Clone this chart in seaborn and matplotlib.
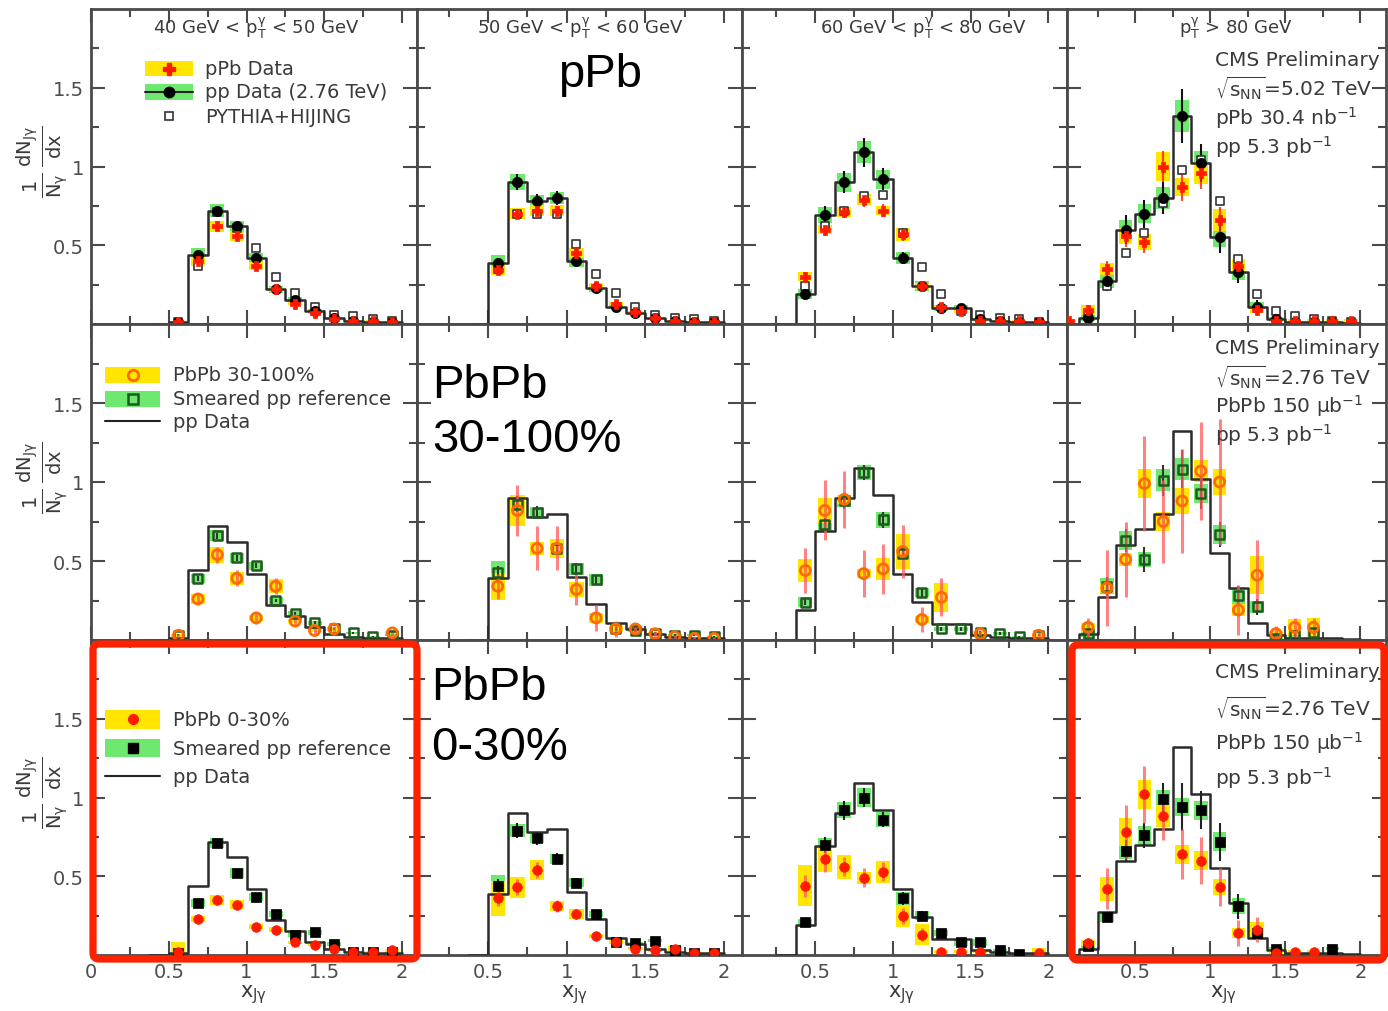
import numpy as np
import pandas as pd
import matplotlib
matplotlib.use("Agg")
import matplotlib.pyplot as plt
import seaborn as sns
from matplotlib.patches import Rectangle, FancyBboxPatch
from matplotlib.ticker import FixedLocator

nan = np.nan

# ---------------------------------------------------------------------------
# x_Jgamma bin centres (bin width 0.125) for each photon pT interval
# ---------------------------------------------------------------------------
BIN_WIDTH = 0.125
X_40_50 = [0.5625, 0.6875, 0.8125, 0.9375, 1.0625, 1.1875, 1.3125, 1.4375, 1.5625, 1.6875, 1.8125, 1.9375]
X_50_60 = [0.5625, 0.6875, 0.8125, 0.9375, 1.0625, 1.1875, 1.3125, 1.4375, 1.5625, 1.6875, 1.8125, 1.9375]
X_60_80 = [0.4375, 0.5625, 0.6875, 0.8125, 0.9375, 1.0625, 1.1875, 1.3125, 1.4375, 1.5625, 1.6875, 1.8125, 1.9375]
X_80 = [0.0625, 0.1875, 0.3125, 0.4375, 0.5625, 0.6875, 0.8125, 0.9375, 1.0625, 1.1875, 1.3125, 1.4375,
        1.5625, 1.6875, 1.8125, 1.9375]

PT_TITLES = [r"40 GeV < $p_{T}^{\gamma}$ < 50 GeV", r"50 GeV < $p_{T}^{\gamma}$ < 60 GeV",
             r"60 GeV < $p_{T}^{\gamma}$ < 80 GeV", r"$p_{T}^{\gamma}$ > 80 GeV"]

# ---------------- 40 < pT < 50 GeV ----------------
PP_40_50 = [0.01, 0.44, 0.72, 0.62, 0.42, 0.22, 0.155, 0.085, 0.035, 0.02, 0.015, 0.01]
PP_40_50_STAT = [0.005, 0.02, 0.025, 0.02, 0.02, 0.015, 0.012, 0.01, 0.006, 0.005, 0.004, 0.003]
PP_40_50_SYS = [0.01, 0.04, 0.04, 0.035, 0.03, 0.02, 0.015, 0.012, 0.008, 0.006, 0.005, 0.004]
PPB_40_50 = [0.01, 0.40, 0.62, 0.56, 0.37, 0.22, 0.13, 0.07, 0.03, 0.02, 0.02, 0.015]
PPB_40_50_STAT = [0.005, 0.015, 0.02, 0.02, 0.015, 0.01, 0.01, 0.008, 0.005, 0.004, 0.004, 0.003]
PPB_40_50_SYS = [0.01, 0.03, 0.035, 0.03, 0.025, 0.015, 0.01, 0.008, 0.006, 0.005, 0.005, 0.004]
PYHJ_40_50 = [0.01, 0.37, 0.71, 0.61, 0.48, 0.30, 0.20, 0.11, 0.06, 0.05, 0.03, 0.02]
PER_40_50 = [0.03, 0.26, 0.54, 0.39, 0.14, 0.34, 0.12, 0.06, 0.07, nan, nan, 0.045]
PER_40_50_STAT = [0.01, 0.04, 0.05, 0.05, 0.04, 0.05, 0.03, 0.02, 0.02, nan, nan, 0.02]
PER_40_50_SYS = [0.01, 0.03, 0.05, 0.04, 0.02, 0.045, 0.015, 0.01, 0.01, nan, nan, 0.01]
SMP_40_50 = [0.03, 0.39, 0.66, 0.52, 0.47, 0.25, 0.17, 0.11, 0.07, 0.045, 0.02, 0.03]
SMP_40_50_STAT = [0.005, 0.015, 0.02, 0.02, 0.015, 0.012, 0.01, 0.008, 0.006, 0.005, 0.004, 0.004]
SMP_40_50_SYS = [0.01, 0.03, 0.035, 0.03, 0.025, 0.02, 0.015, 0.012, 0.01, 0.008, 0.006, 0.006]
CEN_40_50 = [0.02, 0.23, 0.35, 0.32, 0.18, 0.16, 0.08, 0.065, 0.04, 0.02, 0.02, 0.03]
CEN_40_50_STAT = [0.005, 0.015, 0.02, 0.02, 0.015, 0.012, 0.01, 0.008, 0.006, 0.005, 0.005, 0.005]
CEN_40_50_SYS = [0.06, 0.02, 0.03, 0.03, 0.015, 0.015, 0.01, 0.008, 0.006, 0.005, 0.005, 0.01]
SMC_40_50 = [0.01, 0.33, 0.71, 0.52, 0.37, 0.26, 0.13, 0.145, 0.07, 0.02, 0.02, 0.02]
SMC_40_50_STAT = [0.005, 0.015, 0.02, 0.02, 0.015, 0.012, 0.01, 0.01, 0.006, 0.004, 0.004, 0.004]
SMC_40_50_SYS = [0.01, 0.025, 0.03, 0.03, 0.025, 0.02, 0.015, 0.015, 0.01, 0.006, 0.006, 0.006]

# ---------------- 50 < pT < 60 GeV ----------------
PP_50_60 = [0.39, 0.90, 0.78, 0.80, 0.40, 0.23, 0.11, 0.07, 0.035, 0.02, 0.015, 0.01]
PP_50_60_STAT = [0.03, 0.05, 0.045, 0.045, 0.03, 0.02, 0.015, 0.012, 0.008, 0.006, 0.005, 0.004]
PP_50_60_SYS = [0.05, 0.05, 0.04, 0.04, 0.035, 0.025, 0.015, 0.01, 0.008, 0.006, 0.005, 0.004]
PPB_50_60 = [0.34, 0.70, 0.72, 0.72, 0.45, 0.24, 0.13, 0.075, 0.04, 0.02, 0.015, 0.01]
PPB_50_60_STAT = [0.025, 0.03, 0.03, 0.03, 0.025, 0.02, 0.012, 0.01, 0.006, 0.005, 0.004, 0.004]
PPB_50_60_SYS = [0.03, 0.035, 0.035, 0.035, 0.03, 0.02, 0.012, 0.008, 0.006, 0.005, 0.004, 0.004]
PYHJ_50_60 = [0.35, 0.70, 0.70, 0.70, 0.51, 0.32, 0.20, 0.11, 0.06, 0.04, 0.03, 0.02]
PER_50_60 = [0.34, 0.82, 0.58, 0.58, 0.32, 0.14, 0.07, 0.07, 0.04, 0.02, 0.01, 0.01]
PER_50_60_STAT = [0.08, 0.16, 0.14, 0.14, 0.10, 0.08, 0.05, 0.03, 0.02, 0.01, 0.01, 0.01]
PER_50_60_SYS = [0.085, 0.10, 0.04, 0.06, 0.05, 0.03, 0.02, 0.015, 0.01, 0.005, 0.005, 0.005]
SMP_50_60 = [0.43, 0.86, 0.81, 0.58, 0.45, 0.38, 0.07, 0.06, 0.04, 0.03, 0.03, 0.02]
SMP_50_60_STAT = [0.04, 0.05, 0.04, 0.04, 0.04, 0.03, 0.015, 0.01, 0.008, 0.006, 0.006, 0.005]
SMP_50_60_SYS = [0.07, 0.06, 0.03, 0.04, 0.04, 0.04, 0.015, 0.01, 0.008, 0.006, 0.006, 0.005]
CEN_50_60 = [0.36, 0.43, 0.54, 0.31, 0.26, 0.12, 0.085, 0.04, 0.03, 0.04, 0.015, 0.015]
CEN_50_60_STAT = [0.05, 0.05, 0.05, 0.04, 0.03, 0.02, 0.015, 0.01, 0.008, 0.008, 0.005, 0.005]
CEN_50_60_SYS = [0.11, 0.065, 0.065, 0.03, 0.03, 0.015, 0.012, 0.01, 0.008, 0.015, 0.005, 0.005]
SMC_50_60 = [0.44, 0.79, 0.74, 0.61, 0.46, 0.26, 0.085, 0.075, 0.09, 0.03, 0.01, 0.01]
SMC_50_60_STAT = [0.04, 0.05, 0.04, 0.035, 0.03, 0.02, 0.012, 0.01, 0.01, 0.006, 0.004, 0.004]
SMC_50_60_SYS = [0.07, 0.04, 0.03, 0.03, 0.03, 0.02, 0.01, 0.01, 0.01, 0.006, 0.004, 0.004]

# ---------------- 60 < pT < 80 GeV ----------------
PP_60_80 = [0.19, 0.69, 0.90, 1.09, 0.92, 0.42, 0.24, 0.10, 0.10, 0.03, 0.02, 0.015, 0.01]
PP_60_80_STAT = [0.03, 0.06, 0.07, 0.09, 0.07, 0.04, 0.03, 0.02, 0.02, 0.01, 0.008, 0.006, 0.005]
PP_60_80_SYS = [0.03, 0.05, 0.06, 0.07, 0.06, 0.04, 0.03, 0.02, 0.02, 0.01, 0.008, 0.006, 0.005]
PPB_60_80 = [0.30, 0.60, 0.71, 0.79, 0.72, 0.57, 0.24, 0.11, 0.08, 0.02, 0.02, 0.02, 0.01]
PPB_60_80_STAT = [0.03, 0.04, 0.04, 0.05, 0.04, 0.04, 0.03, 0.02, 0.015, 0.008, 0.008, 0.008, 0.005]
PPB_60_80_SYS = [0.03, 0.03, 0.03, 0.035, 0.03, 0.04, 0.02, 0.01, 0.01, 0.008, 0.008, 0.008, 0.005]
PYHJ_60_80 = [0.24, 0.62, 0.72, 0.81, 0.82, 0.58, 0.36, 0.19, 0.08, 0.06, 0.04, 0.03, 0.015]
PER_60_80 = [0.44, 0.82, 0.89, 0.42, 0.45, 0.56, 0.13, 0.27, nan, 0.04, nan, nan, 0.03]
PER_60_80_STAT = [0.14, 0.19, 0.18, 0.15, 0.16, 0.17, 0.08, 0.12, nan, 0.02, nan, nan, 0.02]
PER_60_80_SYS = [0.07, 0.08, 0.03, 0.03, 0.07, 0.11, 0.02, 0.09, nan, 0.02, nan, nan, 0.015]
SMP_60_80 = [0.24, 0.73, 0.88, 1.06, 0.76, 0.55, 0.30, 0.07, 0.07, 0.05, 0.04, 0.02, 0.03]
SMP_60_80_STAT = [0.02, 0.04, 0.05, 0.05, 0.05, 0.04, 0.03, 0.01, 0.01, 0.01, 0.008, 0.005, 0.005]
SMP_60_80_SYS = [0.03, 0.04, 0.04, 0.05, 0.05, 0.06, 0.03, 0.015, 0.015, 0.01, 0.008, 0.005, 0.006]
CEN_60_80 = [0.44, 0.61, 0.56, 0.49, 0.53, 0.25, 0.13, 0.02, 0.02, 0.02, nan, nan, 0.01]
CEN_60_80_STAT = [0.07, 0.08, 0.06, 0.06, 0.06, 0.05, 0.04, 0.01, 0.01, 0.01, nan, nan, 0.01]
CEN_60_80_SYS = [0.13, 0.08, 0.075, 0.04, 0.07, 0.07, 0.065, 0.01, 0.01, 0.01, nan, nan, 0.035]
SMC_60_80 = [0.21, 0.70, 0.92, 1.00, 0.86, 0.36, 0.25, 0.14, 0.08, 0.08, 0.03, 0.005, nan]
SMC_60_80_STAT = [0.02, 0.05, 0.06, 0.06, 0.05, 0.04, 0.03, 0.015, 0.01, 0.01, 0.006, 0.004, nan]
SMC_60_80_SYS = [0.02, 0.04, 0.05, 0.06, 0.05, 0.04, 0.03, 0.02, 0.02, 0.02, 0.01, 0.005, nan]

# ---------------- pT > 80 GeV ----------------
PP_80 = [nan, 0.04, 0.27, 0.60, 0.70, 0.80, 1.32, 1.02, 0.55, 0.33, 0.11, 0.03, 0.01, 0.01, 0.01, 0.005]
PP_80_STAT = [nan, 0.02, 0.06, 0.09, 0.09, 0.10, 0.17, 0.12, 0.10, 0.07, 0.04, 0.02, 0.01, 0.01, 0.01, 0.005]
PP_80_SYS = [nan, 0.02, 0.04, 0.06, 0.06, 0.07, 0.10, 0.08, 0.06, 0.05, 0.03, 0.015, 0.008, 0.008, 0.008, 0.005]
PPB_80 = [0.02, 0.09, 0.35, 0.56, 0.52, 1.00, 0.87, 0.96, 0.66, 0.37, 0.09, 0.02, 0.02, 0.02, 0.02, 0.02]
PPB_80_STAT = [0.01, 0.03, 0.05, 0.07, 0.07, 0.10, 0.09, 0.10, 0.08, 0.07, 0.04, 0.01, 0.01, 0.01, 0.01, 0.01]
PPB_80_SYS = [0.01, 0.03, 0.04, 0.05, 0.05, 0.09, 0.06, 0.07, 0.07, 0.04, 0.02, 0.01, 0.01, 0.01, 0.01, 0.01]
PYHJ_80 = [nan, 0.06, 0.24, 0.45, 0.58, 0.77, 0.98, 1.04, 0.78, 0.41, 0.19, 0.08, 0.05, 0.03, 0.02, 0.01]
PER_80 = [nan, 0.08, 0.33, 0.51, 0.99, 0.75, 0.88, 1.07, 1.00, 0.19, 0.41, 0.04, 0.08, 0.08, nan, nan]
PER_80_STAT = [nan, 0.06, 0.24, 0.24, 0.30, 0.26, 0.33, 0.31, 0.40, 0.16, 0.22, 0.05, 0.06, 0.06, nan, nan]
PER_80_SYS = [nan, 0.03, 0.03, 0.04, 0.09, 0.06, 0.08, 0.07, 0.08, 0.04, 0.12, 0.02, 0.05, 0.06, nan, nan]
SMP_80 = [nan, 0.04, 0.34, 0.63, 0.51, 1.01, 1.08, 0.93, 0.67, 0.28, 0.21, 0.01, 0.03, 0.05, nan, nan]
SMP_80_STAT = [nan, 0.02, 0.06, 0.07, 0.08, 0.10, 0.12, 0.10, 0.08, 0.06, 0.05, 0.01, 0.02, 0.02, nan, nan]
SMP_80_SYS = [nan, 0.02, 0.05, 0.06, 0.05, 0.07, 0.07, 0.06, 0.06, 0.05, 0.04, 0.01, 0.02, 0.02, nan, nan]
CEN_80 = [nan, 0.075, 0.42, 0.78, 1.02, 0.88, 0.64, 0.60, 0.43, 0.14, 0.16, 0.01, 0.02, 0.02, nan, nan]
CEN_80_STAT = [nan, 0.03, 0.13, 0.17, 0.18, 0.15, 0.16, 0.15, 0.12, 0.08, 0.08, 0.01, 0.01, 0.01, nan, nan]
CEN_80_SYS = [nan, 0.02, 0.075, 0.09, 0.09, 0.07, 0.06, 0.06, 0.05, 0.03, 0.05, 0.01, 0.01, 0.01, nan, nan]
SMC_80 = [nan, 0.06, 0.24, 0.66, 0.76, 0.99, 0.94, 0.92, 0.72, 0.31, 0.14, 0.04, nan, nan, 0.04, nan]
SMC_80_STAT = [nan, 0.02, 0.03, 0.07, 0.08, 0.10, 0.15, 0.12, 0.12, 0.08, 0.04, 0.01, nan, nan, 0.01, nan]
SMC_80_SYS = [nan, 0.02, 0.03, 0.05, 0.06, 0.06, 0.06, 0.06, 0.06, 0.05, 0.03, 0.01, nan, nan, 0.01, nan]

COLUMNS = [
    dict(x=X_40_50, pp=PP_40_50, pp_stat=PP_40_50_STAT, pp_sys=PP_40_50_SYS,
         ppb=PPB_40_50, ppb_stat=PPB_40_50_STAT, ppb_sys=PPB_40_50_SYS, pyhj=PYHJ_40_50,
         per=PER_40_50, per_stat=PER_40_50_STAT, per_sys=PER_40_50_SYS,
         smp=SMP_40_50, smp_stat=SMP_40_50_STAT, smp_sys=SMP_40_50_SYS,
         cen=CEN_40_50, cen_stat=CEN_40_50_STAT, cen_sys=CEN_40_50_SYS,
         smc=SMC_40_50, smc_stat=SMC_40_50_STAT, smc_sys=SMC_40_50_SYS),
    dict(x=X_50_60, pp=PP_50_60, pp_stat=PP_50_60_STAT, pp_sys=PP_50_60_SYS,
         ppb=PPB_50_60, ppb_stat=PPB_50_60_STAT, ppb_sys=PPB_50_60_SYS, pyhj=PYHJ_50_60,
         per=PER_50_60, per_stat=PER_50_60_STAT, per_sys=PER_50_60_SYS,
         smp=SMP_50_60, smp_stat=SMP_50_60_STAT, smp_sys=SMP_50_60_SYS,
         cen=CEN_50_60, cen_stat=CEN_50_60_STAT, cen_sys=CEN_50_60_SYS,
         smc=SMC_50_60, smc_stat=SMC_50_60_STAT, smc_sys=SMC_50_60_SYS),
    dict(x=X_60_80, pp=PP_60_80, pp_stat=PP_60_80_STAT, pp_sys=PP_60_80_SYS,
         ppb=PPB_60_80, ppb_stat=PPB_60_80_STAT, ppb_sys=PPB_60_80_SYS, pyhj=PYHJ_60_80,
         per=PER_60_80, per_stat=PER_60_80_STAT, per_sys=PER_60_80_SYS,
         smp=SMP_60_80, smp_stat=SMP_60_80_STAT, smp_sys=SMP_60_80_SYS,
         cen=CEN_60_80, cen_stat=CEN_60_80_STAT, cen_sys=CEN_60_80_SYS,
         smc=SMC_60_80, smc_stat=SMC_60_80_STAT, smc_sys=SMC_60_80_SYS),
    dict(x=X_80, pp=PP_80, pp_stat=PP_80_STAT, pp_sys=PP_80_SYS,
         ppb=PPB_80, ppb_stat=PPB_80_STAT, ppb_sys=PPB_80_SYS, pyhj=PYHJ_80,
         per=PER_80, per_stat=PER_80_STAT, per_sys=PER_80_SYS,
         smp=SMP_80, smp_stat=SMP_80_STAT, smp_sys=SMP_80_SYS,
         cen=CEN_80, cen_stat=CEN_80_STAT, cen_sys=CEN_80_SYS,
         smc=SMC_80, smc_stat=SMC_80_STAT, smc_sys=SMC_80_SYS),
]

# ---------------------------------------------------------------------------
# style
# ---------------------------------------------------------------------------
sns.set_style("white")
plt.rcParams["font.family"] = ["DejaVu Sans"]
plt.rcParams["mathtext.fontset"] = "dejavusans"
plt.rcParams["mathtext.default"] = "regular"

YELLOW = "#ffe500"
GREEN = "#6ee86e"
RED = "#ff1a00"
ORANGE = "#ff6a00"
ERR_RED = "#ff5a5a"
DARK_GREEN = "#1f5a1f"
FRAME = "#4a4a4a"
TEXT = "#3a3a3a"

W, H = 1388, 1012
COL_PX = [91, 417, 742, 1067, 1386]
ROW_PX = [10, 325, 641, 956]
XLIMS = [(0.0, 2.096), (0.049, 2.115), (0.03, 2.12), (0.047, 2.17)]

fig = plt.figure(figsize=(W / 100, H / 100), dpi=100)
fig.patch.set_facecolor("white")


def fx(px):
    return px / W


def fy(py):
    return 1 - py / H


def arr(v):
    return np.asarray(v, dtype=float)


def sys_boxes(ax, x, y, s, color, width=0.09, z=2):
    x, y, s = arr(x), arr(y), arr(s)
    m = ~np.isnan(y) & ~np.isnan(s)
    ax.bar(x[m], 2 * s[m], bottom=y[m] - s[m], width=width, color=color,
           linewidth=0, zorder=z)


def stat_bars(ax, x, y, e, color, lw, alpha=1.0, z=4):
    x, y, e = arr(x), arr(y), arr(e)
    m = ~np.isnan(y) & ~np.isnan(e)
    ax.errorbar(x[m], y[m], yerr=e[m], fmt="none", ecolor=color, elinewidth=lw,
                capsize=0, alpha=alpha, zorder=z)


def points(ax, x, y, marker, s, face, edge, lw, z):
    df = pd.DataFrame({"x": arr(x), "y": arr(y)}).dropna()
    sns.scatterplot(data=df, x="x", y="y", marker=marker, s=s, color=face,
                    edgecolor=edge, linewidth=lw, ax=ax, zorder=z, legend=False)


def pp_hist(ax, x, vals):
    xs = arr(x)
    v = np.nan_to_num(arr(vals))
    centers = np.concatenate([[xs[0] - BIN_WIDTH], xs])
    weights = np.concatenate([[0.0], v])
    edges = np.concatenate([centers - BIN_WIDTH / 2, [centers[-1] + BIN_WIDTH / 2]])
    df = pd.DataFrame({"xjg": centers, "w": weights})
    sns.histplot(data=df, x="xjg", weights="w", bins=list(edges), element="step",
                 fill=False, color="#2b2b2b", linewidth=1.8, ax=ax, zorder=3)


def legend_entry(ax, y, label, box=None, box_h=0.05, line=False, marker=None,
                 x0=0.043, x1=0.212, xt=0.252):
    if box is not None:
        ax.add_patch(Rectangle((x0, y - box_h / 2), x1 - x0, box_h, transform=ax.transAxes,
                               facecolor=box, linewidth=0, zorder=6, clip_on=False))
    if line:
        ax.plot([x0, x1], [y, y], transform=ax.transAxes, color="#222222", lw=1.5,
                zorder=7, clip_on=False)
    if marker is not None:
        ax.plot([(x0 + x1) / 2], [y], transform=ax.transAxes, linestyle="none",
                zorder=8, clip_on=False, **marker)
    ax.text(xt, y, label, transform=ax.transAxes, ha="left", va="center",
            fontsize=14, color=TEXT, zorder=8)


axes = [[None] * 4 for _ in range(3)]
for r in range(3):
    for c in range(4):
        left = fx(COL_PX[c])
        width = (COL_PX[c + 1] - COL_PX[c]) / W
        bottom = fy(ROW_PX[r + 1])
        height = (ROW_PX[r + 1] - ROW_PX[r]) / H
        axes[r][c] = fig.add_axes([left, bottom, width, height])

for c, col in enumerate(COLUMNS):
    x = col["x"]

    # pPb row
    ax = axes[0][c]
    sys_boxes(ax, x, col["pp"], col["pp_sys"], GREEN)
    sys_boxes(ax, x, col["ppb"], col["ppb_sys"], YELLOW)
    pp_hist(ax, x, col["pp"])
    stat_bars(ax, x, col["pp"], col["pp_stat"], "#111111", 1.5)
    stat_bars(ax, x, col["ppb"], col["ppb_stat"], RED, 1.5, alpha=0.8)
    points(ax, x, col["pyhj"], "s", 30, "white", "#333333", 1.2, 5)
    points(ax, x, col["pp"], "o", 55, "black", "black", 0.5, 6)
    points(ax, x, col["ppb"], "P", 60, RED, RED, 0.5, 7)

    # PbPb 30-100% row
    ax = axes[1][c]
    pp_hist(ax, x, col["pp"])
    sys_boxes(ax, x, col["smp"], col["smp_sys"], GREEN)
    sys_boxes(ax, x, col["per"], col["per_sys"], YELLOW)
    stat_bars(ax, x, col["smp"], col["smp_stat"], "#333333", 1.5)
    stat_bars(ax, x, col["per"], col["per_stat"], ERR_RED, 2.2, alpha=0.75)
    points(ax, x, col["smp"], "s", 42, "none", DARK_GREEN, 1.8, 6)
    points(ax, x, col["per"], "o", 52, "none", ORANGE, 2.0, 7)

    # PbPb 0-30% row
    ax = axes[2][c]
    pp_hist(ax, x, col["pp"])
    sys_boxes(ax, x, col["smc"], col["smc_sys"], GREEN)
    sys_boxes(ax, x, col["cen"], col["cen_sys"], YELLOW)
    stat_bars(ax, x, col["smc"], col["smc_stat"], "#222222", 1.5)
    stat_bars(ax, x, col["cen"], col["cen_stat"], ERR_RED, 2.2, alpha=0.75)
    points(ax, x, col["smc"], "s", 48, "black", "black", 0.5, 6)
    points(ax, x, col["cen"], "o", 48, RED, RED, 0.5, 7)

# axis cosmetics
for r in range(3):
    for c in range(4):
        ax = axes[r][c]
        ax.set_xlim(*XLIMS[c])
        ax.set_ylim(0, 2.0)
        ax.set_xlabel("")
        ax.set_ylabel("")
        ax.xaxis.set_major_locator(FixedLocator([0, 0.5, 1, 1.5, 2]))
        ax.xaxis.set_minor_locator(FixedLocator([0.25, 0.75, 1.25, 1.75]))
        ax.yaxis.set_major_locator(FixedLocator([0.5, 1, 1.5]))
        ax.yaxis.set_minor_locator(FixedLocator([0.25, 0.75, 1.25, 1.75]))
        ax.set_xticklabels(["0", "0.5", "1", "1.5", "2"])
        ax.set_yticklabels(["0.5", "1", "1.5"])
        ax.tick_params(which="both", direction="in", top=True, right=True,
                       bottom=True, left=True, color=FRAME, width=1.5,
                       labelsize=14, labelcolor="#4d4d4d",
                       labelleft=(c == 0), labelbottom=(r == 2))
        ax.tick_params(which="major", length=10, pad=5)
        ax.tick_params(which="minor", length=6)
        for sp in ax.spines.values():
            sp.set_color(FRAME)
            sp.set_linewidth(2.0)
            sp.set_visible(True)
        ax.set_facecolor("white")

# pT interval titles
for c, (title, xc) in enumerate(zip(PT_TITLES, [256, 580, 923, 1236])):
    fig.text(fx(xc), fy(28), title, ha="center", va="center", fontsize=13, color=TEXT)

# y-axis titles and x-axis titles
ytitle = r"$\frac{1}{N_{\gamma}}\,\frac{dN_{J\gamma}}{dx}$"
for yc in [162, 478, 793]:
    fig.text(fx(42), fy(yc), ytitle, rotation=90, ha="center", va="center",
             fontsize=20, color=TEXT)
for xc in [254, 575, 902, 1224]:
    fig.text(fx(xc), fy(995), r"$x_{J\gamma}$", ha="center", va="center",
             fontsize=15, color=TEXT)

# legends
ax = axes[0][0]
legend_entry(ax, 0.811, "pPb Data", box=YELLOW,
             marker=dict(marker="P", markersize=8, color=RED, markeredgecolor=RED),
             x0=0.166, x1=0.313, xt=0.350)
legend_entry(ax, 0.737, "pp Data (2.76 TeV)", box=GREEN, line=True,
             marker=dict(marker="o", markersize=7.5, color="black"),
             x0=0.166, x1=0.313, xt=0.350)
legend_entry(ax, 0.660, "PYTHIA+HIJING",
             marker=dict(marker="s", markersize=5.8, markerfacecolor="white",
                         markeredgecolor="#333333", markeredgewidth=1.2),
             x0=0.166, x1=0.313, xt=0.350)

ax = axes[1][0]
legend_entry(ax, 0.839, "PbPb 30-100%", box=YELLOW,
             marker=dict(marker="o", markersize=7.5, markerfacecolor="none",
                         markeredgecolor=ORANGE, markeredgewidth=2.0))
legend_entry(ax, 0.763, "Smeared pp reference", box=GREEN,
             marker=dict(marker="s", markersize=6.5, markerfacecolor="none",
                         markeredgecolor=DARK_GREEN, markeredgewidth=1.8))
legend_entry(ax, 0.693, "pp Data", line=True)

ax = axes[2][0]
legend_entry(ax, 0.749, "PbPb 0-30%", box=YELLOW, box_h=0.06,
             marker=dict(marker="o", markersize=7, color=RED))
legend_entry(ax, 0.657, "Smeared pp reference", box=GREEN, box_h=0.06,
             marker=dict(marker="s", markersize=7, color="black"))
legend_entry(ax, 0.568, "pp Data", line=True)

# collision system / luminosity blocks
info = [
    (["CMS Preliminary", r"$\sqrt{s_{NN}}$=5.02 TeV", r"pPb 30.4 nb$^{-1}$", r"pp 5.3 pb$^{-1}$"],
     [60, 88, 118, 147]),
    (["CMS Preliminary", r"$\sqrt{s_{NN}}$=2.76 TeV", r"PbPb 150 $\mu$b$^{-1}$", r"pp 5.3 pb$^{-1}$"],
     [349, 377, 406, 435]),
    (["CMS Preliminary", r"$\sqrt{s_{NN}}$=2.76 TeV", r"PbPb 150 $\mu$b$^{-1}$", r"pp 5.3 pb$^{-1}$"],
     [673, 708, 743, 778]),
]
for lines, ys in info:
    for txt, yp in zip(lines, ys):
        fig.text(fx(1215), fy(yp), txt, ha="left", va="center", fontsize=14.5, color=TEXT)

# collision system labels
big = dict(fontsize=34, color="black", family=["Liberation Sans", "DejaVu Sans"],
           ha="left", va="baseline")
fig.text(fx(558), fy(87), "pPb", **big)
fig.text(fx(432), fy(398), "PbPb", **big)
fig.text(fx(432), fy(452), "30-100%", **big)
fig.text(fx(431), fy(700), "PbPb", **big)
fig.text(fx(431), fy(760), "0-30%", **big)

# highlight frames around the most central PbPb panels
for (x0, y0, x1, y1) in [(93, 645, 417, 960), (1072, 646, 1384, 961)]:
    frame = FancyBboxPatch((x0 / 100, (H - y1) / 100), (x1 - x0) / 100, (y1 - y0) / 100,
                           boxstyle="round,pad=0,rounding_size=0.06",
                           transform=fig.dpi_scale_trans, fill=False,
                           edgecolor="#ff2200", linewidth=5.2, zorder=20)
    fig.add_artist(frame)

fig.savefig("out.png", dpi=100, facecolor="white")
